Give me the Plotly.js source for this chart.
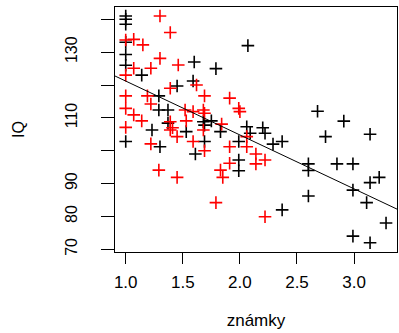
<!DOCTYPE html>
<html>
<head>
<meta charset="utf-8">
<script src="https://cdn.plot.ly/plotly-3.0.1.min.js"></script>
<style>html,body{margin:0;padding:0;background:#fff;}#chart{width:399px;height:333px;}</style>
</head>
<body>
<div id="chart"></div>
<script>
// black group
const blackZnamky = [1.00,1.00,1.00,1.00,2.07,1.00,1.00,1.60,1.79,1.14,1.45,1.59,1.29,1.29,1.37,1.68,1.75,1.69,1.23,1.53,1.83,2.06,1.37,1.00,1.30,1.69,1.61,1.99,1.99,1.99,2.68,2.91,2.20,2.09,2.22,2.75,3.14,2.29,2.37,2.60,2.60,2.85,2.99,3.22,3.14,2.99,3.11,2.60,2.37,3.28,2.99,3.14];
const blackIQ     = [141,140,138.5,133,132,129.3,126,127,125,123,119.7,121.2,116.7,112.4,112.4,108.8,109.1,107.8,106.3,105.8,105.8,107.3,108.4,102.8,101.2,102.8,99,102.8,97.2,93.9,112,109,107,105.3,105.3,104.3,105,102,102.8,96,94,96,96,91.9,90.3,88,84.2,86.2,82,78,74,72];
// red group
const redZnamky = [1.30,1.39,1.00,1.07,1.15,1.30,1.07,1.22,1.46,1.00,1.39,1.62,1.00,1.19,1.69,1.91,1.00,1.07,1.22,1.52,1.68,1.69,1.99,2.00,1.14,1.39,1.53,1.84,1.00,1.39,1.68,1.45,2.06,1.22,1.59,1.69,1.91,2.06,1.91,1.83,1.85,1.29,1.45,1.79,2.14,2.14,2.22,2.22,1.41,1.59];
const redIQ     = [141,136,133.7,133.9,132.2,128.1,125.1,125.1,126.1,123,119,120,116.7,116.7,116.7,116,112.9,110.9,114.2,112.4,112.4,111.4,112.9,111.9,109.1,108.8,109.1,108.1,107.1,106.3,106.3,104.3,104.3,102.1,102.8,100,101.2,101.2,96.2,94.1,91.9,94.1,91.9,84.2,99,96,97.2,79.9,107,111.9];
// fitted regression line IQ ~ známky
const fitIntercept = 137.6;
const fitSlope = -16.4;
const xTicks = [1.0,1.5,2.0,2.5,3.0];
const yTicks = [70,80,90,100,110,120,130,140];
const yTickText = ['70','80','90','','110','','130',''];
const xRange = [0.906, 3.376];
const yRange = [69.18, 143.74];

const traces = [
  {x:blackZnamky, y:blackIQ, mode:'markers', type:'scatter',
   marker:{symbol:'cross-thin-open', size:9, color:'#000000', line:{width:1.6, color:'#000000'}}},
  {x:redZnamky, y:redIQ, mode:'markers', type:'scatter',
   marker:{symbol:'cross-thin-open', size:9, color:'#ff0000', line:{width:1.6, color:'#ff0000'}}},
  {x:xRange, y:xRange.map(v => fitIntercept + fitSlope*v), mode:'lines', type:'scatter',
   line:{color:'#000000', width:1}}
];
const fam = 'Liberation Sans, Arial, sans-serif';
const layout = {
  width:399, height:333,
  margin:{l:115, r:2, t:7, b:81},
  paper_bgcolor:'#fff', plot_bgcolor:'#fff',
  showlegend:false,
  font:{family:fam, size:16, color:'#000'},
  xaxis:{range:xRange, tickvals:xTicks, ticktext:xTicks.map(v=>v.toFixed(1)),
    tickfont:{family:fam, size:17, color:'#000'},
    ticks:'outside', ticklen:11, tickwidth:1, tickcolor:'#000',
    showline:true, mirror:true, linecolor:'#000', linewidth:1.3,
    showgrid:false, zeroline:false, ticklabelstandoff:3,
    title:{text:'známky', font:{family:fam, size:17, color:'#000'}, standoff:23}},
  yaxis:{range:yRange, tickvals:yTicks, ticktext:yTickText, tickangle:-90,
    tickfont:{family:fam, size:16, color:'#000'},
    ticks:'outside', ticklen:13, tickwidth:1, tickcolor:'#000',
    showline:true, mirror:true, linecolor:'#000', linewidth:1.3,
    showgrid:false, zeroline:false, ticklabelstandoff:17,
    title:{text:'IQ', font:{family:fam, size:16, color:'#000'}, standoff:34}}
};
Plotly.newPlot('chart', traces, layout, {displayModeBar:false, staticPlot:true});
</script>
</body>
</html>
